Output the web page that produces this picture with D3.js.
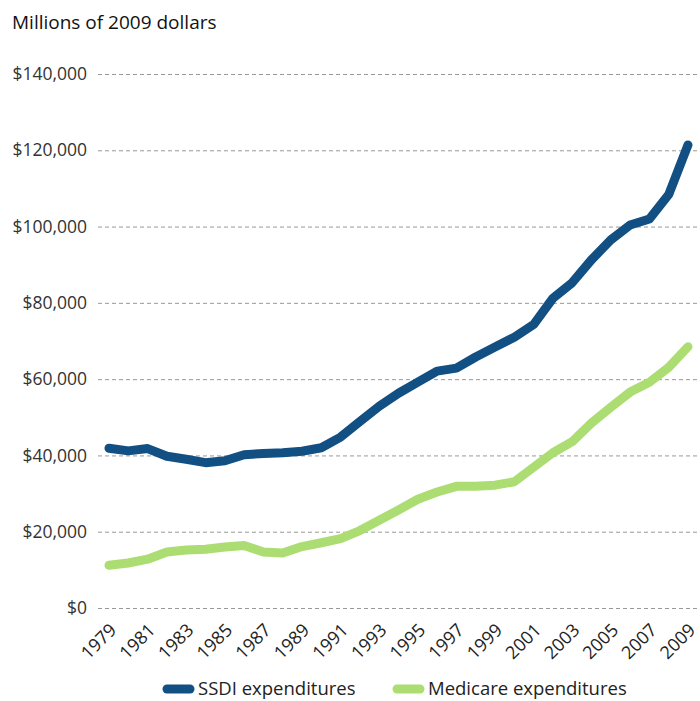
<!DOCTYPE html>
<html>
<head>
<meta charset="utf-8">
<script src="https://cdn.jsdelivr.net/npm/d3@7"></script>
<style>
  body { margin: 0; background: #fff; }
  svg { display: block; }
  text { font-family: "Open Sans", "Noto Sans", sans-serif; }
</style>
</head>
<body>
<svg id="chart" width="700" height="701"></svg>
<script>
const years = d3.range(1979, 2010);
const ssdi = [41900, 41200, 41800, 39800, 39000, 38100, 38600, 40200, 40500, 40700, 41100, 42000,
  44800, 48900, 52900, 56300, 59200, 62100, 62900, 65800, 68400, 71000, 74300, 81200, 85300,
  91300, 96500, 100400, 102000, 108400, 121400];
const medicare = [11200, 11800, 12800, 14700, 15200, 15400, 16000, 16400, 14700, 14400, 16100, 17100,
  18200, 20300, 23000, 25700, 28500, 30400, 31900, 31900, 32200, 33100, 36900, 40700, 43600,
  48500, 52600, 56600, 59200, 63100, 68500];
const yTicks = [0, 20000, 40000, 60000, 80000, 100000, 120000, 140000];
const xTicks = d3.range(1979, 2010, 2);
const seriesNames = ["SSDI expenditures", "Medicare expenditures"];
const seriesColors = ["#124f82", "#acdd72"];
const title = "Millions of 2009 dollars";

const svg = d3.select("#chart");
const x = d3.scaleLinear().domain([1979, 2009]).range([109, 688]);
const y = d3.scaleLinear().domain([0, 140000]).range([608, 74]);

svg.append("text").attr("x", 12).attr("y", 29)
  .attr("font-size", 19).attr("fill", "#111").text(title);

// grid + y labels
const fmt = v => "$" + d3.format(",")(v);
const yAxis = d3.axisLeft(y).tickValues(yTicks).tickSize(-(700 - 98)).tickFormat(fmt).tickPadding(11);
const gy = svg.append("g").attr("transform", "translate(98,0)").call(yAxis);
gy.select(".domain").remove();
gy.selectAll(".tick line").attr("stroke", "#999").attr("stroke-dasharray", "4,3").attr("stroke-width", 1);
gy.selectAll(".tick text").attr("font-size", 17.5).attr("fill", "#333")
  .attr("font-family", "'Open Sans', 'Noto Sans', sans-serif");

// x labels
const xAxis = d3.axisBottom(x).tickValues(xTicks).tickFormat(d3.format("d")).tickSize(0);
const gx = svg.append("g").attr("transform", "translate(0,608)").call(xAxis);
gx.select(".domain").remove();
gx.selectAll(".tick text")
  .attr("font-size", 18).attr("fill", "#222")
  .attr("font-family", "'Open Sans', 'Noto Sans', sans-serif")
  .attr("text-anchor", "end")
  .attr("dy", null)
  .attr("transform", "translate(6,21) rotate(-45)");

const line = d3.line().x((d, i) => x(years[i])).y(d => y(d));
[medicare, ssdi].forEach((s, k) => {
  const idx = k === 0 ? 1 : 0;
  svg.append("path").datum(s).attr("d", line)
    .attr("fill", "none").attr("stroke", seriesColors[idx])
    .attr("stroke-width", 9).attr("stroke-linejoin", "round").attr("stroke-linecap", "round");
});

// legend
const legX = [167, 397];
seriesNames.forEach((n, i) => {
  const g = svg.append("g").attr("transform", `translate(${legX[i]},689)`);
  g.append("line").attr("x1", 0).attr("x2", 23).attr("y1", 0).attr("y2", 0)
    .attr("stroke", seriesColors[i]).attr("stroke-width", 9).attr("stroke-linecap", "round");
  g.append("text").attr("x", 31).attr("y", 6).attr("font-size", 18.5).attr("fill", "#222").text(n);
});
</script>
</body>
</html>
